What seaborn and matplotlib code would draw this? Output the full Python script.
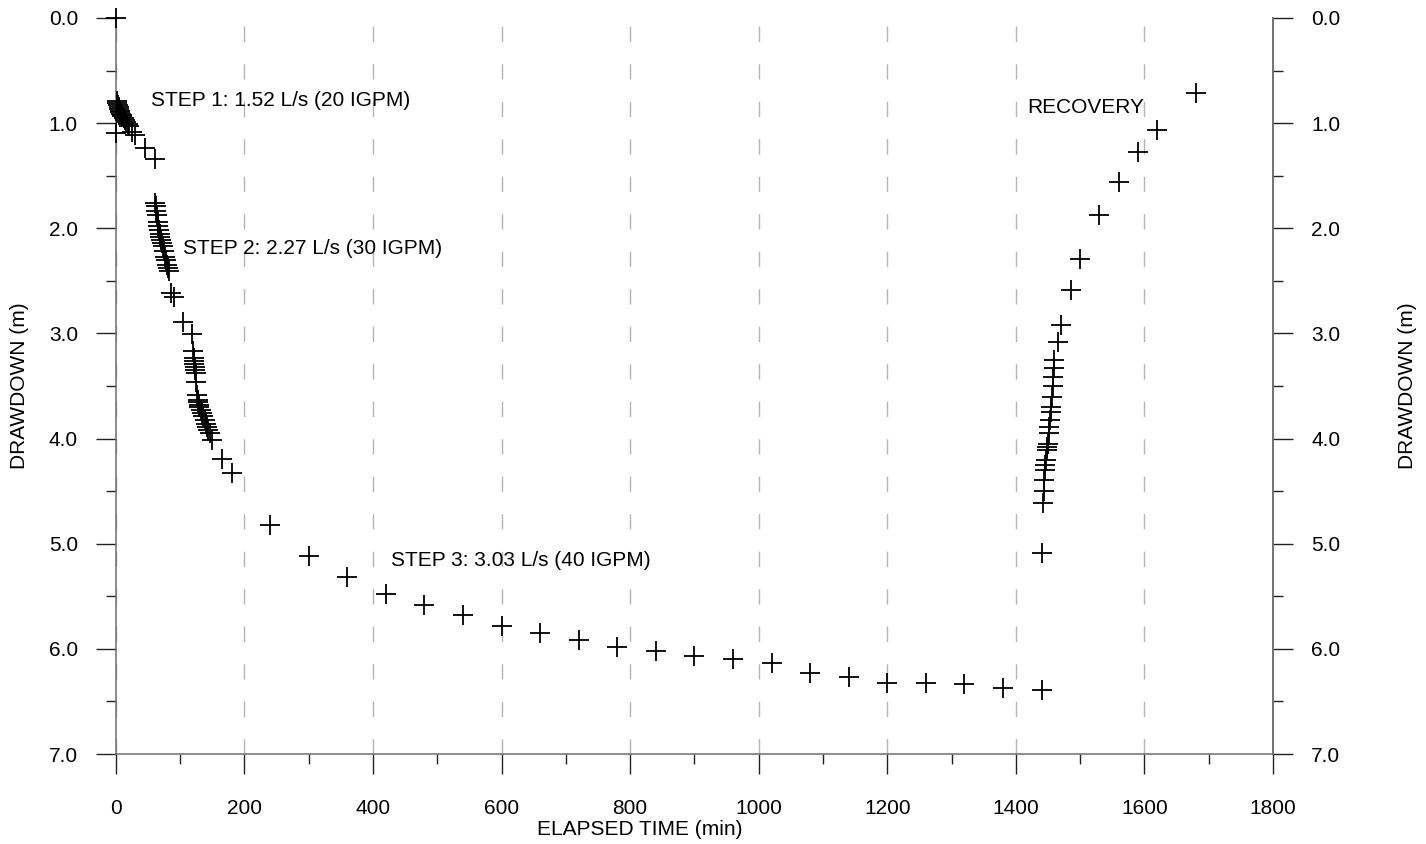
import numpy as np
import pandas as pd
import matplotlib
matplotlib.use('Agg')
import matplotlib.pyplot as plt
import matplotlib.ticker as ticker
import seaborn as sns

# ======================== 数据 ========================
# STEP 1: 1.52 L/s
step1_time = [0, 0.3, 1, 2, 3, 4, 5, 6, 7, 8, 9, 10, 12, 14, 16, 18, 20, 25, 30, 45, 60]
step1_draw = [0.00, 1.09, 0.79, 0.81, 0.83, 0.85, 0.87, 0.88, 0.89, 0.91, 0.92, 0.93,
              0.95, 0.97, 0.99, 1.01, 1.03, 1.08, 1.11, 1.24, 1.34]

# STEP 2: 2.27 L/s
step2_time = [61, 62, 63, 64, 65, 66, 67, 68, 69, 70, 71.5, 73, 74.5, 76, 77.5, 79, 80.5, 82,
              85, 90, 105, 119]
step2_draw = [1.76, 1.79, 1.84, 1.87, 1.94, 1.98, 2.02, 2.05, 2.08, 2.11, 2.14, 2.17, 2.22,
              2.27, 2.30, 2.35, 2.38, 2.41, 2.62, 2.65, 2.89, 3.01]

# STEP 3: 3.03 L/s
step3_time = [120.5, 121, 121.5, 122, 122.5, 123, 124, 125, 126, 127, 128, 129, 130, 132,
              134, 136, 138, 140, 142, 144, 146, 150, 165, 180,
              240, 300, 360, 420, 480, 540, 600, 660, 720, 780, 840, 900, 960, 1020,
              1080, 1140, 1200, 1260, 1320, 1380, 1440]
step3_draw = [3.17, 3.23, 3.26, 3.29, 3.32, 3.35, 3.38, 3.46, 3.59, 3.63, 3.65, 3.68, 3.70,
              3.73, 3.76, 3.79, 3.82, 3.86, 3.89, 3.92, 3.95, 4.01, 4.19, 4.33,
              4.82, 5.12, 5.32, 5.48, 5.58, 5.68, 5.78, 5.85, 5.92, 5.98, 6.02, 6.07, 6.10,
              6.13, 6.23, 6.27, 6.32, 6.32, 6.33, 6.37, 6.39]

# RECOVERY
recov_time = [1440.5, 1442, 1443, 1444, 1445, 1446, 1447, 1448, 1449, 1450, 1451, 1452,
              1453, 1454, 1455, 1456, 1457, 1458, 1459, 1460, 1465, 1470, 1485, 1500,
              1530, 1560, 1590, 1620, 1680]
recov_draw = [5.09, 4.61, 4.50, 4.39, 4.30, 4.25, 4.20, 4.11, 4.08, 4.05, 3.95, 3.89,
              3.82, 3.75, 3.70, 3.60, 3.50, 3.41, 3.33, 3.25, 3.08, 2.92, 2.59, 2.29,
              1.87, 1.56, 1.27, 1.07, 0.71]

labels = ['STEP 1: 1.52 L/s (20 IGPM)', 'STEP 2: 2.27 L/s (30 IGPM)',
          'STEP 3: 3.03 L/s (40 IGPM)', 'RECOVERY']
label_time = [54, 105, 428, 1418]
label_draw = [0.84, 2.24, 5.21, 0.90]

x_ticks = list(range(0, 1801, 200))
y_ticks = [0, 1, 2, 3, 4, 5, 6, 7]

df = pd.DataFrame({
    'time': step1_time + step2_time + step3_time + recov_time,
    'drawdown': step1_draw + step2_draw + step3_draw + recov_draw,
})

# ======================== 样式 ========================
sns.set_style('ticks')
plt.rcParams['font.family'] = ['Liberation Sans', 'DejaVu Sans']
plt.rcParams['font.size'] = 15
plt.rcParams['text.color'] = 'black'
plt.rcParams['axes.labelcolor'] = 'black'

fig = plt.figure(figsize=(14.26, 8.44), dpi=100)
ax = fig.add_axes([0.0813, 0.1066, 0.8114, 0.8721])

sns.scatterplot(data=df, x='time', y='drawdown', ax=ax, marker='+', s=200,
                color='black', linewidth=1.3, clip_on=False, zorder=5, legend=False)

ax.set_xlim(0, 1800)
ax.set_ylim(7, 0)
ax.set_xticks(x_ticks)
ax.set_yticks(y_ticks)
ax.xaxis.set_minor_locator(ticker.MultipleLocator(100))
ax.yaxis.set_minor_locator(ticker.MultipleLocator(0.5))
ax.yaxis.set_major_formatter(ticker.FormatStrFormatter('%.1f'))

ax.grid(axis='x', which='major', color='#b4b4b4', linestyle=(0, (11, 16)), linewidth=1.0)
ax.set_axisbelow(True)

spine_col = '#6e6e6e'
for side in ['left', 'bottom', 'right']:
    ax.spines[side].set_color(spine_col)
    ax.spines[side].set_linewidth(1.1)
ax.spines['top'].set_visible(False)

ax.tick_params(axis='both', which='major', length=14.4, width=1.0, color='#222222',
               labelsize=15, labelcolor='black', direction='out')
ax.tick_params(axis='both', which='minor', length=7.2, width=1.0, color='#222222',
               direction='out')
ax.tick_params(axis='y', which='major', pad=13)
ax.tick_params(axis='x', which='major', pad=18)

ax.set_xlabel('ELAPSED TIME (min)', fontsize=15, color='black')
ax.set_ylabel('DRAWDOWN (m)', fontsize=15, color='black')
ax.xaxis.set_label_coords(0.453, -0.09)
ax.yaxis.set_label_coords(-0.075, 0.5)

# 右侧坐标轴
ax2 = ax.twinx()
ax2.set_ylim(7, 0)
ax2.set_yticks(y_ticks)
ax2.yaxis.set_minor_locator(ticker.MultipleLocator(0.5))
ax2.yaxis.set_major_formatter(ticker.FormatStrFormatter('%.1f'))
ax2.spines['top'].set_visible(False)
ax2.spines['left'].set_visible(False)
ax2.spines['bottom'].set_visible(False)
ax2.spines['right'].set_color(spine_col)
ax2.spines['right'].set_linewidth(1.1)
ax2.tick_params(axis='y', which='major', length=14.4, width=1.0, color='#222222',
                labelsize=15, labelcolor='black', pad=13, direction='out')
ax2.tick_params(axis='y', which='minor', length=7.2, width=1.0, color='#222222',
                direction='out')
ax2.set_ylabel('DRAWDOWN (m)', fontsize=15, rotation=90, color='black')
ax2.yaxis.set_label_coords(1.108, 0.5)

# 注释文字
for txt, tx, ty in zip(labels, label_time, label_draw):
    ax.text(tx, ty, txt, fontsize=15, ha='left', va='baseline', color='black', zorder=6)

fig.savefig('out.png', dpi=100)
plt.close(fig)
